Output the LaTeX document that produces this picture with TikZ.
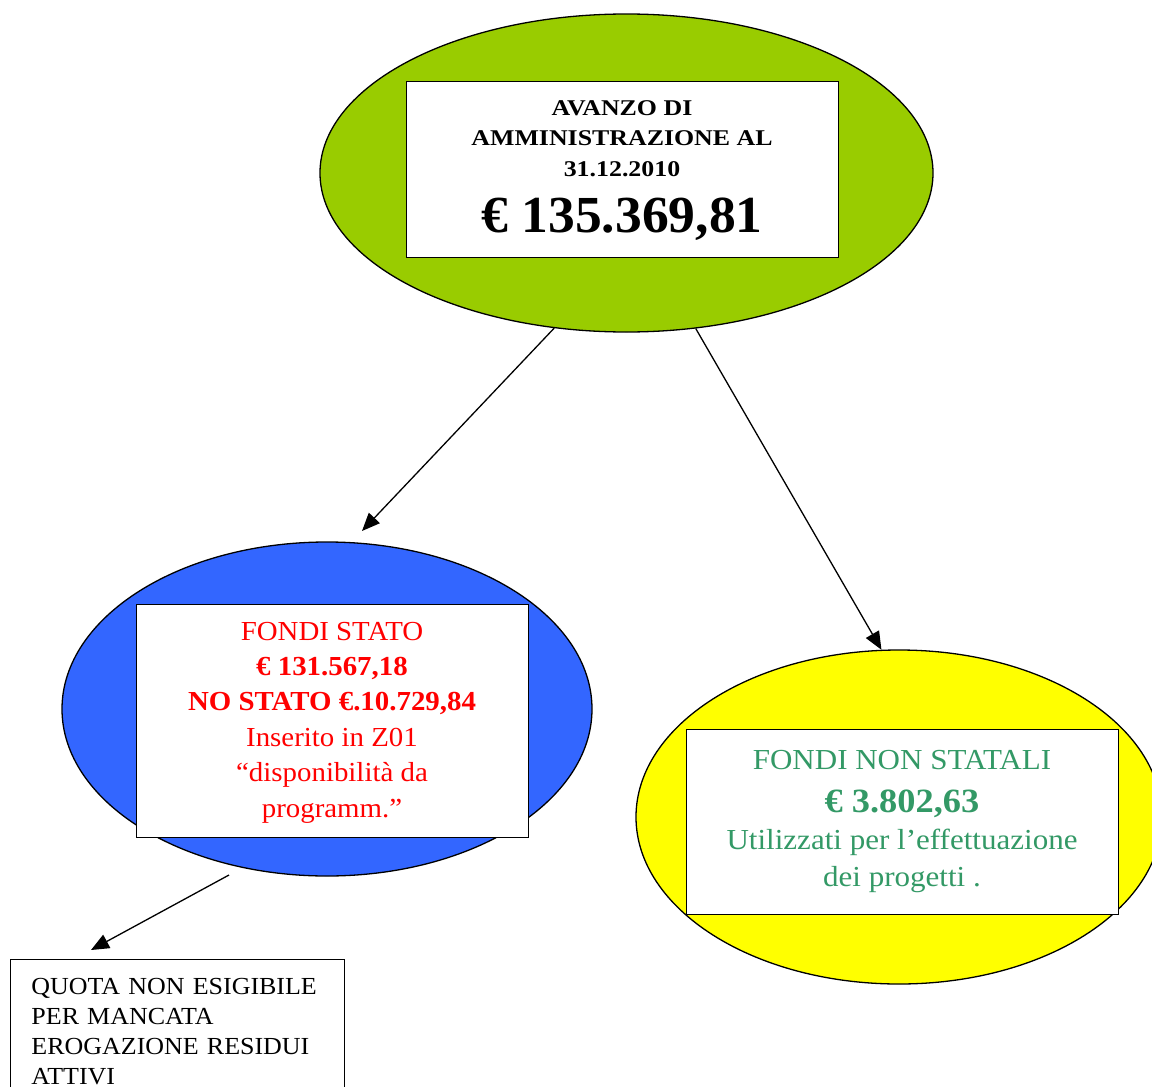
\documentclass[tikz,border=0pt]{standalone}
\usepackage{fontspec}
\setmainfont{Liberation Serif}
\newfontfamily\widetop[FakeStretch=1.15]{Liberation Serif}
\newfontfamily\widebig[FakeStretch=1.03]{Liberation Serif}
\newfontfamily\widefs[FakeStretch=1.05]{Liberation Serif}
\newfontfamily\widefn[FakeStretch=1.07]{Liberation Serif}
\newfontfamily\widequota[FakeStretch=1.06]{Liberation Serif}
\usetikzlibrary{shapes.geometric,arrows.meta}
\definecolor{avgreen}{HTML}{99CC00}
\definecolor{fsblue}{HTML}{3366FF}
\definecolor{fnyellow}{HTML}{FFFF00}
\definecolor{fngreen}{HTML}{339966}
\definecolor{fsred}{HTML}{FF0000}
\tikzset{
  blob/.style={ellipse, draw=black, line width=1.3pt, inner sep=0pt},
  card/.style={rectangle, draw=black, line width=0.9pt, fill=white, align=center, inner sep=0pt},
  link/.style={line width=1.3pt, -{Triangle[length=18pt,width=15pt]}}
}
\begin{document}
\begin{tikzpicture}[x=1pt,y=-1pt]
\useasboundingbox (0,0) rectangle (1152,1087);
\clip (0,0) rectangle (1152,1087);
% ellipses
\node[blob, fill=avgreen, minimum width=613pt, minimum height=318pt] (avanzo) at (626.5,173) {};
\node[blob, fill=fsblue, minimum width=530pt, minimum height=334pt] (stato) at (327,709) {};
\node[blob, fill=fnyellow, minimum width=526pt, minimum height=334pt] (nonstato) at (899,817) {};
% boxes
\node[card, minimum width=432pt, minimum height=176pt,
      font=\widetop\fontsize{22.5}{30.5}\selectfont\bfseries] (avbox) at (622,169)
  {\rule{0pt}{18pt}AVANZO DI\\AMMINISTRAZIONE AL\\31.12.2010\\[21pt]{\widebig\fontsize{52}{52}\selectfont\bfseries € 135.369,81}};
\node[card, minimum width=392pt, minimum height=233pt, text=fsred,
      font=\widefs\fontsize{27.5}{35.4}\selectfont] (fsbox) at (332,720.5)
  {\rule{0pt}{22pt}FONDI STATO\\\textbf{€ 131.567,18}\\\textbf{NO STATO €.10.729,84}\\Inserito in Z01\\“disponibilità da\\programm.”};
\node[card, minimum width=432pt, minimum height=185pt, text=fngreen,
      font=\widefn\fontsize{29}{37}\selectfont] (fnbox) at (902,821.5)
  {FONDI NON STATALI\\[6pt]{\widefn\fontsize{34}{37}\selectfont\bfseries € 3.802,63}\\Utilizzati per l’effettuazione\\dei progetti .};
\node[card, anchor=north west, align=left, text width=292pt,
      inner xsep=21pt, inner ysep=0pt, text depth=120pt,
      font=\widequota\fontsize{24.5}{30}\selectfont] (quota) at (10,959)
  {\rule{0pt}{35pt}QUOTA NON ESIGIBILE\\PER MANCATA\\EROGAZIONE RESIDUI\\ATTIVI};
% connector ends
\coordinate (t1) at (362,531);
\coordinate (s3) at (229,875);
\coordinate (t3) at (91,950);
% connectors
\draw[link] (avanzo.-115.5) -- (t1);
\draw[link] (avanzo.-66.2) -- (nonstato.96.7);
\draw[link] (s3) -- (t3);
\end{tikzpicture}
\end{document}
